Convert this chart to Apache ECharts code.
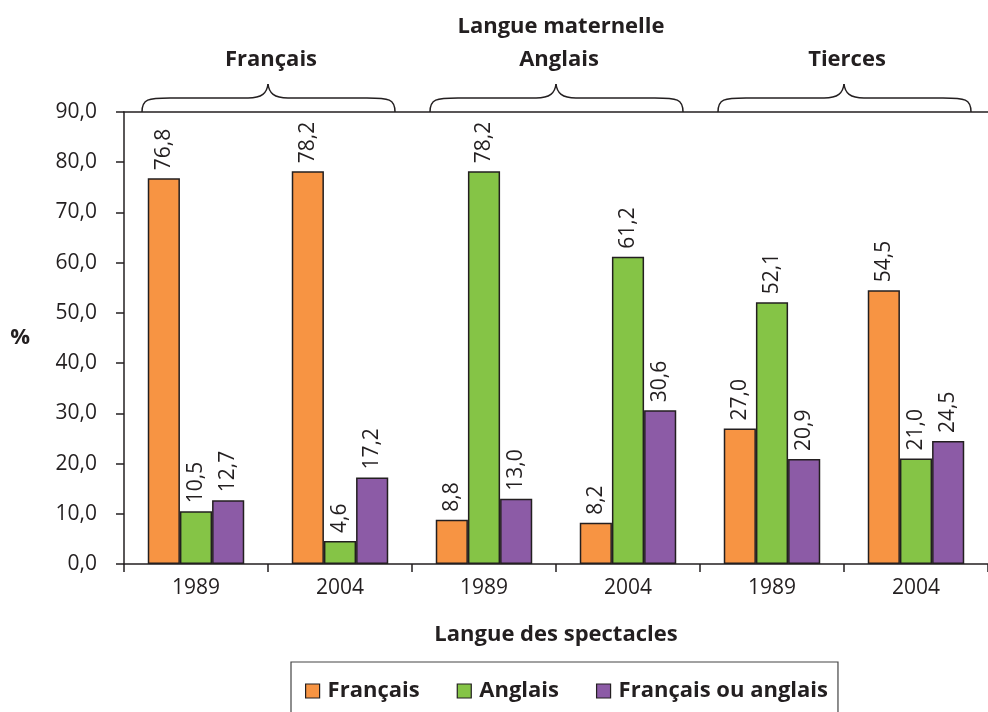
<!DOCTYPE html>
<html><head><meta charset="utf-8">
<script src="https://cdn.jsdelivr.net/npm/echarts@6/dist/echarts.min.js"></script>
<style>html,body{margin:0;padding:0;background:#fff}#c{width:988px;height:712px}</style>
</head><body><div id="c"></div>
<script>
var categories = ['1989', '2004', '1989', '2004', '1989', '2004'];
var groupLabels = ['Français', 'Anglais', 'Tierces'];
var seriesNames = ['Français', 'Anglais', 'Français ou anglais'];
var francais = [76.8, 78.2, 8.8, 8.2, 27.0, 54.5];
var anglais = [10.5, 4.6, 78.2, 61.2, 52.1, 21.0];
var francaisOuAnglais = [12.7, 17.2, 13.0, 30.6, 20.9, 24.5];
var colors = ['#f79443', '#85c446', '#8c5ba6'];

var FONT = '"Open Sans", "Noto Sans", sans-serif';
var INK = '#231f20';
var chart = echarts.init(document.getElementById('c'), null, {renderer: 'canvas'});

function fmt(v) { return v.toFixed(1).replace('.', ','); }

function mkSeries(name, data, color) {
  return {
    name: name, type: 'bar', data: data, barGap: 0, barCategoryGap: '33%',
    itemStyle: {color: color, borderColor: INK, borderWidth: 1.5},
    label: {
      show: true, position: 'top', rotate: 90, align: 'left', verticalAlign: 'middle',
      distance: 8, fontFamily: FONT, fontSize: 21, color: INK,
      formatter: function (p) { return fmt(p.value); }
    }
  };
}

var option = {
  animation: false,
  textStyle: {fontFamily: FONT},
  grid: {left: 124, top: 112, width: 870, height: 452, containLabel: false},
  xAxis: [{
    type: 'category', data: categories, position: 'bottom',
    axisLine: {lineStyle: {color: INK, width: 1.5}},
    axisTick: {show: true, length: 8, lineStyle: {color: INK, width: 1.5}},
    axisLabel: {fontFamily: FONT, fontSize: 21, color: INK, margin: 14},
    name: 'Langue des spectacles', nameLocation: 'middle', nameGap: 60,
    nameTextStyle: {fontFamily: FONT, fontSize: 22, fontWeight: 'bold', color: INK}
  }, {
    type: 'category', data: categories, position: 'top',
    axisLine: {show: true, lineStyle: {color: INK, width: 1.5}},
    axisTick: {show: false}, axisLabel: {show: false}
  }],
  yAxis: {
    type: 'value', min: 0, max: 90, interval: 10,
    axisLine: {show: true, lineStyle: {color: INK, width: 1.5}},
    axisTick: {show: true, inside: false, length: 8, lineStyle: {color: INK, width: 1.5}},
    splitLine: {show: false},
    axisLabel: {fontFamily: FONT, fontSize: 21, color: INK, margin: 27, formatter: function (v) { return fmt(v); }},
    name: '%', nameLocation: 'middle', nameRotate: 0, nameGap: 94,
    nameTextStyle: {fontFamily: FONT, fontSize: 22, fontWeight: 'bold', color: INK}
  },
  legend: {
    data: seriesNames, left: 291, top: 662, width: 640,
    padding: [18, 10, 30, 14], itemGap: 37, itemWidth: 14, itemHeight: 14,
    borderColor: '#444', borderWidth: 1.2, icon: 'rect',
    itemStyle: {borderColor: INK, borderWidth: 1.2},
    textStyle: {fontFamily: FONT, fontSize: 22, fontWeight: 'bold', color: INK, padding: [0, 0, 0, 3]}
  },
  series: [
    mkSeries(seriesNames[0], francais, colors[0]),
    mkSeries(seriesNames[1], anglais, colors[1]),
    mkSeries(seriesNames[2], francaisOuAnglais, colors[2])
  ]
};
chart.setOption(option);

// braces and group titles, positioned from the axis scale
var g = [];
var half = (chart.convertToPixel({xAxisIndex: 0}, 1) - chart.convertToPixel({xAxisIndex: 0}, 0)) / 2;
var ls = {stroke: INK, lineWidth: 1.5, fill: null};
for (var i = 0; i < groupLabels.length; i++) {
  var c0 = chart.convertToPixel({xAxisIndex: 0}, i * 2);
  var c1 = chart.convertToPixel({xAxisIndex: 0}, i * 2 + 1);
  var cx = (c0 + c1) / 2;
  var x1 = c0 - half + 18, x2 = c1 + half - 17;
  var yb = 112, yh = 98, yt = 84;
  g.push({type: 'bezierCurve', shape: {x1: x1, y1: yb, x2: x1 + 28, y2: yh, cpx1: x1, cpy1: yh + 1, cpx2: x1 + 6, cpy2: yh}, style: ls});
  g.push({type: 'line', shape: {x1: x1 + 28, y1: yh, x2: cx - 20, y2: yh}, style: ls});
  g.push({type: 'bezierCurve', shape: {x1: cx - 20, y1: yh, x2: cx, y2: yt, cpx1: cx - 6, cpy1: yh, cpx2: cx - 1, cpy2: yh - 5}, style: ls});
  g.push({type: 'bezierCurve', shape: {x1: cx, y1: yt, x2: cx + 20, y2: yh, cpx1: cx + 1, cpy1: yh - 5, cpx2: cx + 6, cpy2: yh}, style: ls});
  g.push({type: 'line', shape: {x1: cx + 20, y1: yh, x2: x2 - 28, y2: yh}, style: ls});
  g.push({type: 'bezierCurve', shape: {x1: x2 - 28, y1: yh, x2: x2, y2: yb, cpx1: x2 - 6, cpy1: yh, cpx2: x2, cpy2: yh + 1}, style: ls});
  g.push({type: 'text', x: cx + 3, y: 60, style: {text: groupLabels[i], align: 'center', verticalAlign: 'middle', fontFamily: FONT, fontSize: 22, fontWeight: 'bold', fill: INK}});
}
var mid = (chart.convertToPixel({xAxisIndex: 0}, 2) + chart.convertToPixel({xAxisIndex: 0}, 3)) / 2;
g.push({type: 'text', x: mid + 5, y: 27, style: {text: 'Langue maternelle', align: 'center', verticalAlign: 'middle', fontFamily: FONT, fontSize: 22, fontWeight: 'bold', fill: INK}});
chart.setOption({graphic: g});
</script></body></html>
